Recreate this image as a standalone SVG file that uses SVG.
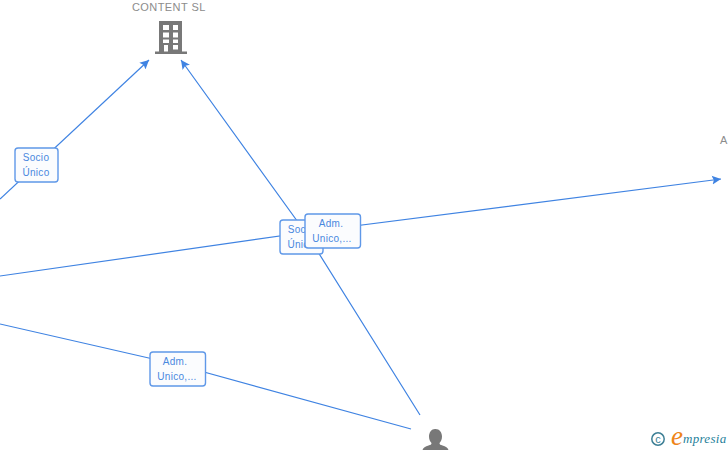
<svg xmlns="http://www.w3.org/2000/svg" width="728" height="450" viewBox="0 0 728 450">
<style>
.c{fill:none;stroke:#3f83e2;stroke-width:1.2}
.box{fill:#fbfcfe;stroke:#5f98e8;stroke-width:1.4}
.lb{font:10px "Liberation Sans",Arial,sans-serif;fill:#4a88de;text-anchor:middle;letter-spacing:.3px}
.nm{font:11px "Liberation Sans",Arial,sans-serif;fill:#8c8c8c;letter-spacing:.42px}
.ic{fill:#787878}
</style>
<defs>
<marker id="a" markerUnits="userSpaceOnUse" markerWidth="10" markerHeight="10" refX="9" refY="5" orient="auto"><path d="M0,0.5L9,5L0,9.500L1.800,5Z" fill="#3f83e2"/></marker>
</defs>
<rect width="728" height="450" fill="#fff"/>
<g id="connectors">
<path class="c" d="M0,199L149,60" marker-end="url(#a)"/>
<path class="c" d="M420,415L308,236L181,60" marker-end="url(#a)"/>
<path class="c" d="M0,276L315,231L721,179" marker-end="url(#a)"/>
<path class="c" d="M0,324L175,364L411,429"/>
</g>
<g id="edge-socio-1"><rect class="box" x="15" y="148" width="43" height="34" rx="3"/><text class="lb" x="36" y="161">Socio</text><text class="lb" x="36" y="176">Único</text></g>
<g id="edge-socio-2"><rect class="box" x="280" y="220" width="43" height="34" rx="3"/><text class="lb" x="301" y="233">Socio</text><text class="lb" x="301" y="248">Único</text></g>
<g id="edge-adm-1"><rect class="box" x="305" y="214" width="55.500" height="34" rx="3"/><text class="lb" x="331" y="227">Adm.</text><text class="lb" x="332" y="242">Unico,...</text></g>
<g id="edge-adm-2"><rect class="box" x="150" y="352" width="55.500" height="34" rx="3"/><text class="lb" x="175" y="365">Adm.</text><text class="lb" x="177" y="380">Unico,...</text></g>
<g id="node-content"><text class="nm" x="132" y="11">CONTENT SL</text>
<path class="ic" fill-rule="evenodd" d="M159,21H182V51.500H187V54H155V51.500H159ZM163,25V30H169V25ZM173,25V30H178V25ZM163,32.500V37.500H169V32.500ZM173,32.500V37.500H178V32.500ZM163,39.500V43H169V39.500ZM173,39.500V43H178V39.500ZM164,45V51.500H168V45ZM173,45V49.500H178V45Z"/></g>
<g id="node-right"><text class="nm" x="720" y="144">A</text></g>
<g id="node-person"><path class="ic" d="M435.500,429c4,0 6.500,3.500 6.500,7.500c0,3-1,5-2.500,6.500c0,1.500 1,2 3,2.500c3,1 5.500,2 6,4.500h-26c.5-2.500 3-3.500 6-4.500c2-.5 3-1 3-2.500c-1.500-1.500-2.500-3.500-2.500-6.500c0-4 2.500-7.500 6-7.500Z"/></g>
<g id="logo"><circle cx="658" cy="439" r="6.200" fill="none" stroke="#3d7f95" stroke-width="1.500"/><text x="658" y="442.500" font-family="Liberation Sans,sans-serif" font-size="11" fill="#3d7f95" text-anchor="middle">c</text>
<text x="671" y="445" font-family="Liberation Serif,serif" font-style="italic" font-size="27" fill="#ee8418">e</text><text x="683" y="443" font-family="Liberation Serif,serif" font-style="italic" font-size="13" letter-spacing=".3" fill="#1f7f9a">mpresia</text></g>
</svg>
